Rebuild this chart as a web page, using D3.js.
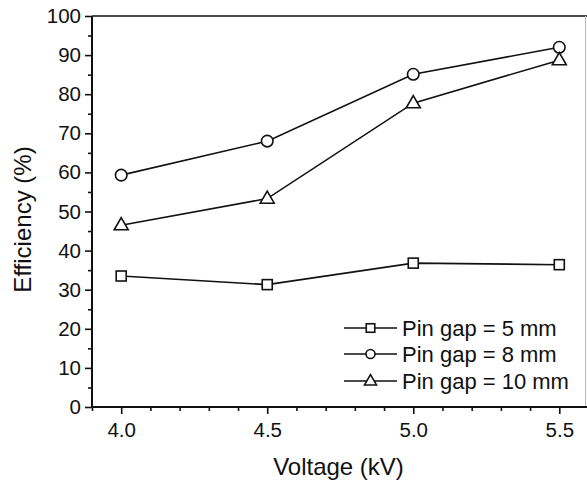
<!DOCTYPE html>
<html><head><meta charset="utf-8">
<script src="https://cdn.jsdelivr.net/npm/d3@7"></script>
<style>body{margin:0;background:#fff}svg{display:block}text{font-family:Arial,"Liberation Sans",sans-serif;fill:#111}</style>
</head><body><svg id="c" width="587" height="481"></svg>
<script>
const voltages = [4.0, 4.5, 5.0, 5.5];
const gap5 = [33.5, 31.3, 36.8, 36.4];
const gap8 = [59.3, 68.0, 85.1, 92.0];
const gap10 = [46.5, 53.3, 77.7, 88.7];
const seriesNames = ["Pin gap = 5 mm", "Pin gap = 8 mm", "Pin gap = 10 mm"];
const seriesSymbols = ["square", "circle", "triangle"];
const xMajorTicks = [4.0, 4.5, 5.0, 5.5];
const yMajorTicks = [0, 10, 20, 30, 40, 50, 60, 70, 80, 90, 100];

const svg = d3.select("#c");
const L = 92, R = 588.5, T = 16, B = 407;
const x = d3.scaleLinear().domain([3.9, 5.6]).range([L, R]);
const y = d3.scaleLinear().domain([0, 100]).range([B, T]);

// frame top and right
svg.append("line").attr("x1", L).attr("x2", 587).attr("y1", T).attr("y2", T).attr("stroke", "#111").attr("stroke-width", 1.6);
svg.append("line").attr("x1", 585.5).attr("x2", 585.5).attr("y1", T).attr("y2", B).attr("stroke", "#bbb").attr("stroke-width", 1);

// y axis
const yMinor = d3.range(0, 101, 5).filter(v => v % 10 !== 0);
const yAx = svg.append("g").attr("transform", `translate(${L},0)`)
  .call(d3.axisLeft(y).tickValues(yMajorTicks).tickSize(7).tickPadding(4).tickFormat(d3.format("d")));
yAx.selectAll("text").attr("font-size", 20.5).style("font-family", "Arial, 'Liberation Sans', sans-serif").attr("fill", "#111");
const yMin = svg.append("g").attr("transform", `translate(${L},0)`)
  .call(d3.axisLeft(y).tickValues(yMinor).tickSize(4).tickFormat(""));
[yAx, yMin].forEach(g => { g.selectAll("line").attr("stroke", "#111").attr("stroke-width", 1.6); g.select(".domain").attr("stroke", "#111").attr("stroke-width", 2).attr("d", `M0,${T}V${B + 1}`); });

// x axis
const xMinor = d3.range(39, 57, 1).map(v => v / 10).filter(v => !xMajorTicks.some(t => Math.abs(t - v) < 1e-6));
const xAx = svg.append("g").attr("transform", `translate(0,${B})`)
  .call(d3.axisBottom(x).tickValues(xMajorTicks).tickSize(7).tickPadding(8).tickFormat(d3.format(".1f")));
xAx.selectAll("text").attr("font-size", 20.5).style("font-family", "Arial, 'Liberation Sans', sans-serif").attr("fill", "#111");
const xMin = svg.append("g").attr("transform", `translate(0,${B})`)
  .call(d3.axisBottom(x).tickValues(xMinor).tickSize(4).tickFormat(""));
[xAx, xMin].forEach(g => { g.selectAll("line").attr("stroke", "#111").attr("stroke-width", 1.6); g.select(".domain").attr("stroke", "#111").attr("stroke-width", 2).attr("d", `M${L - 1},0H587`); });

// axis titles
svg.append("text").attr("x", (L + 559) / 2 + 13).attr("y", 475).attr("text-anchor", "middle").attr("font-size", 24).text("Voltage (kV)");
svg.append("text").attr("transform", `translate(31,${(T + B) / 2 + 8}) rotate(-90)`).attr("text-anchor", "middle").attr("font-size", 24).text("Efficiency (%)");

const allSeries = [gap5, gap8, gap10];
function marker(g, type, cx, cy, s) {
  if (type === "square") g.append("rect").attr("x", cx - s / 2).attr("y", cy - s / 2).attr("width", s).attr("height", s);
  else if (type === "circle") g.append("circle").attr("cx", cx).attr("cy", cy).attr("r", s / 2);
  else {
    const h = s * 0.87;
    g.append("path").attr("d", `M${cx},${cy - h * 0.62}L${cx + s / 2},${cy + h * 0.38}L${cx - s / 2},${cy + h * 0.38}Z`);
  }
}
const line = d3.line().x((d, i) => x(voltages[i])).y(d => y(d));
const sizes = { square: 10, circle: 11.5, triangle: 14 };
allSeries.forEach((vals, k) => {
  svg.append("path").attr("d", line(vals)).attr("fill", "none").attr("stroke", "#111").attr("stroke-width", 1.6);
  const g = svg.append("g").attr("fill", "#fff").attr("stroke", "#111").attr("stroke-width", 1.6);
  vals.forEach((v, i) => marker(g, seriesSymbols[k], x(voltages[i]), y(v), sizes[seriesSymbols[k]]));
});

// legend
const legY = [328, 354, 381];
const legSizes = { square: 8.5, circle: 9, triangle: 12 };
seriesNames.forEach((name, k) => {
  const ly = legY[k];
  svg.append("line").attr("x1", 344).attr("x2", 397).attr("y1", ly).attr("y2", ly).attr("stroke", "#111").attr("stroke-width", 1.6);
  const g = svg.append("g").attr("fill", "#fff").attr("stroke", "#111").attr("stroke-width", 1.6);
  marker(g, seriesSymbols[k], 370.5, ly, legSizes[seriesSymbols[k]]);
  svg.append("text").attr("x", 402).attr("y", ly + 7.5).attr("font-size", 22).text(name);
});
</script></body></html>
